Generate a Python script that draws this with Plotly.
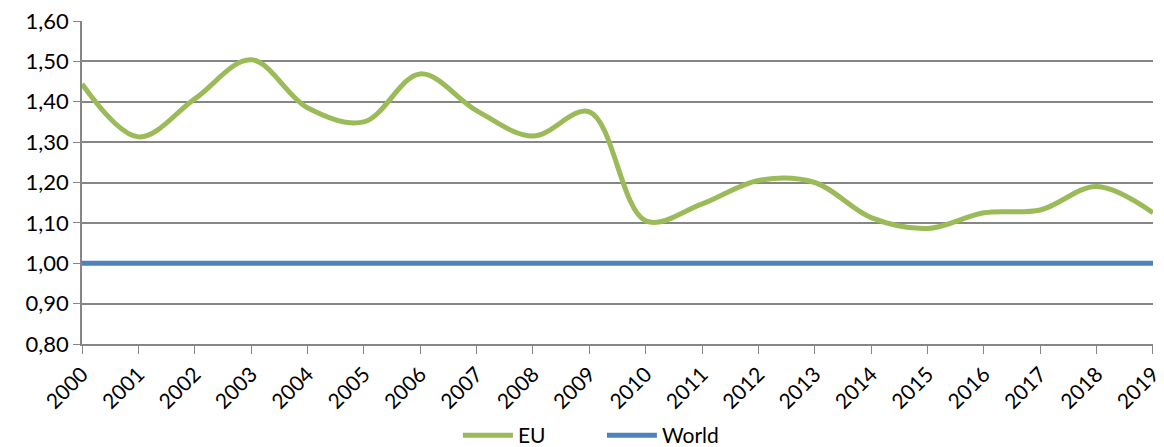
import plotly.graph_objects as go

years = list(range(2000, 2020))
year_labels = [str(y) for y in years]
eu = [1.444, 1.313, 1.407, 1.504, 1.385, 1.350, 1.469, 1.378, 1.315, 1.375,
      1.105, 1.147, 1.205, 1.200, 1.113, 1.086, 1.125, 1.132, 1.190, 1.125]
world = [1.0] * 20
y_ticks = [0.8, 0.9, 1.0, 1.1, 1.2, 1.3, 1.4, 1.5, 1.6]

fig = go.Figure()
fig.add_trace(go.Scatter(x=years, y=eu, name="EU", mode="lines",
                         line=dict(color="#9BBB59", width=5, shape="spline", smoothing=1.0),
                         cliponaxis=False))
fig.add_trace(go.Scatter(x=years, y=world, name="World", mode="lines",
                         line=dict(color="#4F81BD", width=5), cliponaxis=False))

font_family = "Lato, 'Open Sans', sans-serif"
fig.update_layout(
    width=1164, height=447,
    margin=dict(l=82, r=11, t=21, b=103, autoexpand=False),
    paper_bgcolor="white", plot_bgcolor="white",
    separators=", ",
    font=dict(family=font_family, size=22, color="#000000"),
    showlegend=True,
    legend=dict(orientation="h", x=0.351, xanchor="left", y=-0.22, yanchor="top",
                font=dict(size=21), traceorder="normal", itemwidth=50,
                entrywidth=79, entrywidthmode="pixels"),
)
fig.update_xaxes(range=[2000, 2019.0001], tickvals=years, ticktext=year_labels,
                 tickangle=-45, ticks="outside", ticklen=8, tickcolor="#868686",
                 showline=True, linecolor="#868686", linewidth=1.5,
                 showgrid=False, zeroline=False, tickfont=dict(size=21),
                 automargin=False, ticklabeloverflow="allow")
fig.update_yaxes(range=[0.8, 1.6], tickvals=y_ticks, tickformat=".2f",
                 ticks="outside", ticklen=7, tickcolor="#868686",
                 showline=True, linecolor="#868686", linewidth=1.5,
                 showgrid=True, gridcolor="#868686", gridwidth=1.5,
                 zeroline=False, tickfont=dict(size=22), automargin=False)

fig.write_html("out.html")
